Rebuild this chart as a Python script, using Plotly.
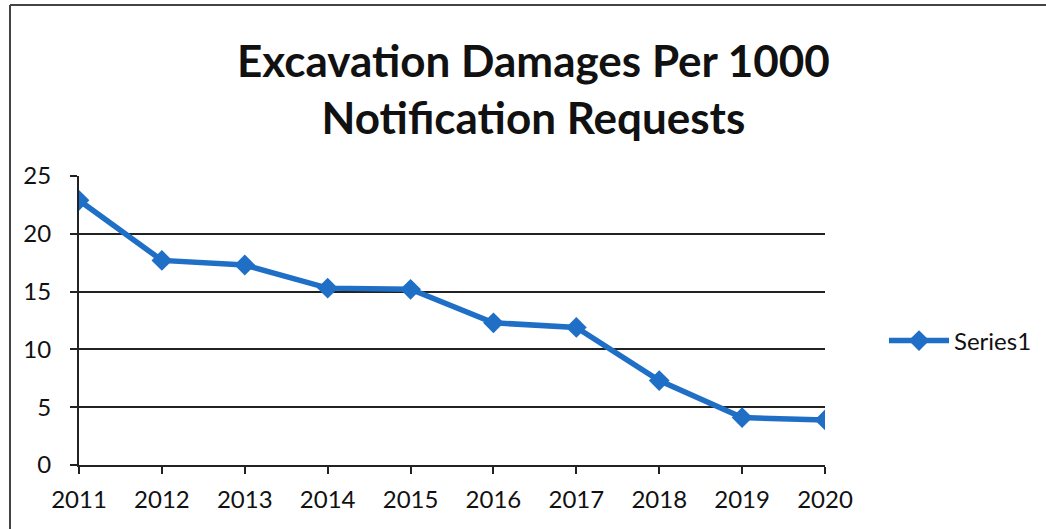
import plotly.graph_objects as go

years = ["2011", "2012", "2013", "2014", "2015", "2016", "2017", "2018", "2019", "2020"]
damages = [22.9, 17.7, 17.3, 15.3, 15.2, 12.3, 11.9, 7.3, 4.1, 3.9]
series_name = "Series1"
title_text = "Excavation Damages Per 1000<br>Notification Requests"
y_ticks = [0, 5, 10, 15, 20, 25]

W, H = 1046, 529
L, R, T, B = 79, 221, 176, 64
pw, ph = W - L - R, H - T - B

def px_x(p):
    return (p - L) / pw

def px_y(p):
    return (H - B - p) / ph

fig = go.Figure()
fig.add_trace(go.Scatter(
    x=years, y=damages, name=series_name, mode="lines+markers",
    line=dict(color="#1f6fc6", width=5.5),
    marker=dict(symbol="diamond", size=16, color="#1f6fc6"),
    showlegend=True,
))

fig.update_layout(
    width=W, height=H,
    margin=dict(l=L, r=R, t=T, b=B, autoexpand=False),
    paper_bgcolor="white", plot_bgcolor="white",
    font=dict(family="Lato, Open Sans, sans-serif", color="#111111", size=24),
    title=dict(text="<b>" + title_text + "</b>", x=0.51, xanchor="center",
               y=1 - 77 / H, yanchor="middle",
               font=dict(size=44, color="#111111")),
    xaxis=dict(type="category", range=[0, 9], showgrid=False, automargin=False,
               showline=True, linecolor="#222222", linewidth=2,
               ticks="outside", ticklen=7, tickcolor="#222222", tickwidth=2,
               zeroline=False, ticklabelstandoff=5,
               tickfont=dict(size=24)),
    yaxis=dict(range=[0, 25], tickvals=y_ticks, showgrid=True, automargin=False,
               gridcolor="#222222", gridwidth=1.5,
               showline=True, linecolor="#222222", linewidth=2,
               ticks="outside", ticklen=7, tickcolor="#222222", tickwidth=2,
               zeroline=False, ticklabelstandoff=14,
               tickfont=dict(size=24)),
    legend=dict(x=px_x(884), y=px_y(341), xanchor="left", yanchor="middle",
                font=dict(size=24), bgcolor="rgba(0,0,0,0)", itemwidth=60),
    shapes=[
        dict(type="line", xref="paper", yref="paper",
             x0=px_x(10), x1=px_x(1060), y0=px_y(5), y1=px_y(5),
             line=dict(color="#444444", width=2)),
        dict(type="line", xref="paper", yref="paper",
             x0=px_x(10), x1=px_x(10), y0=px_y(5), y1=px_y(540),
             line=dict(color="#444444", width=2)),
    ],
)

fig.write_html("out.html")
